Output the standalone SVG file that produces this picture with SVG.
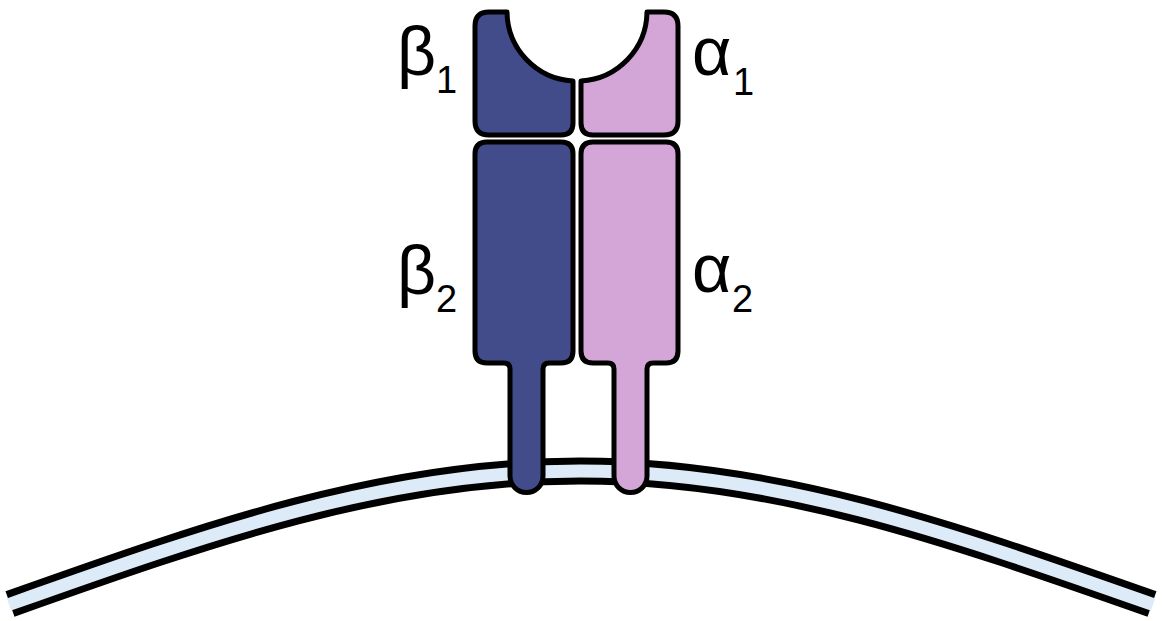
<svg xmlns="http://www.w3.org/2000/svg" width="1162" height="621" viewBox="0 0 1162 621">
<style>
.beta{fill:#434C8A;stroke:#000;stroke-width:5;stroke-linejoin:round}
.alpha{fill:#D4A6D8;stroke:#000;stroke-width:5;stroke-linejoin:round}
.lbl{font-family:"Liberation Sans",Arial,sans-serif;font-size:68px;fill:#000}
.sub{font-family:"Liberation Sans",Arial,sans-serif;font-size:38px;fill:#000}
</style>
<rect width="1162" height="621" fill="#fff"/>
<g id="membrane" fill="none">
<path d="M 10 604 C 210 533 385 471 580 471 C 775 471 950 533 1152 604" stroke="#000" stroke-width="27"/>
<path d="M 9 604.5 C 210 533 385 471 580 471 C 775 471 950 533 1153 604.5" stroke="#DDEBF8" stroke-width="13"/>
</g>
<g id="beta1">
<path class="beta" d="M 507 12 A 70 70 0 0 0 573 81 L 573 123 Q 573 135 561 135 L 489 135 Q 475 135 475 121 L 475 26 Q 475 12 489 12 Z"/>
</g>
<g id="alpha1">
<path class="alpha" d="M 581 81 A 70 70 0 0 0 647 12 L 664 12 Q 678 12 678 26 L 678 121 Q 678 135 664 135 L 593 135 Q 581 135 581 123 Z"/>
</g>
<g id="beta2">
<path class="beta" d="M 487 142 L 561 142 Q 573 142 573 154 L 573 351 Q 573 363 561 363 L 549 363 Q 543 363 543 369 L 543 476 A 16.5 16.5 0 0 1 510 476 L 510 369 Q 510 363 504 363 L 487 363 Q 475 363 475 351 L 475 154 Q 475 142 487 142 Z"/>
</g>
<g id="alpha2">
<path class="alpha" d="M 593 142 L 666 142 Q 678 142 678 154 L 678 351 Q 678 363 666 363 L 653 363 Q 647 363 647 369 L 647 476 A 16.5 16.5 0 0 1 614 476 L 614 369 Q 614 363 608 363 L 593 363 Q 581 363 581 351 L 581 154 Q 581 142 593 142 Z"/>
</g>
<g id="labels">
<text class="lbl" x="397" y="75">β</text><text class="sub" x="436" y="93">1</text>
<text class="lbl" x="692" y="75">α</text><text class="sub" x="733" y="95">1</text>
<text class="lbl" x="397" y="294">β</text><text class="sub" x="436" y="312">2</text>
<text class="lbl" x="692" y="292">α</text><text class="sub" x="732" y="312">2</text>
</g>
</svg>
